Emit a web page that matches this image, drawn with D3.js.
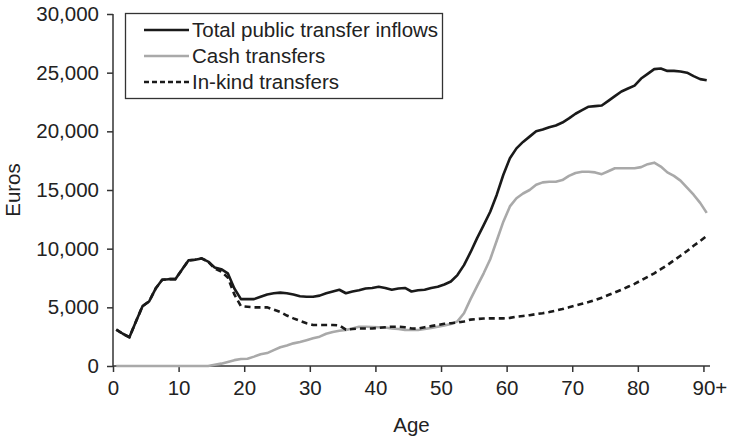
<!DOCTYPE html>
<html><head><meta charset="utf-8">
<script src="https://cdn.jsdelivr.net/npm/d3@7"></script>
<style>
html,body{margin:0;padding:0;background:#fff;}
text{font-family:"Liberation Sans",Arial,Helvetica,sans-serif;fill:#222;}
</style></head>
<body><svg id="c" width="730" height="438"></svg>
<script>
const ages = d3.range(0, 91);
const total = [3100,2750,2450,3800,5100,5500,6600,7350,7400,7400,8200,9000,9050,9170,8900,8400,8250,7900,6600,5700,
  5700,5700,5900,6100,6200,6250,6200,6100,5950,5900,5900,6000,6200,6350,6500,6200,6350,6450,6600,6650,
  6750,6650,6500,6600,6650,6350,6450,6500,6650,6750,6950,7200,7750,8600,9700,10900,12000,13150,14600,16300,
  17700,18550,19100,19550,20000,20150,20350,20500,20750,21100,21500,21800,22100,22150,22200,22600,23000,23400,23650,23900,
  24500,24900,25300,25350,25150,25150,25100,25000,24700,24450,24350];
const cash = [0,0,0,0,0,0,0,0,0,0,0,0,0,0,0,100,200,350,500,600,
  620,800,1000,1100,1350,1600,1750,1930,2050,2200,2360,2500,2750,2900,3000,3070,3200,3350,3350,3320,
  3300,3280,3200,3150,3080,3070,3070,3150,3250,3350,3450,3580,3800,4500,5700,6800,7900,9100,10700,12300,
  13600,14300,14700,15000,15450,15650,15700,15700,15850,16200,16450,16550,16550,16500,16350,16600,16850,16850,16850,16850,
  16950,17200,17330,17000,16500,16200,15800,15200,14600,13900,13050];
const inkind = [3100,2750,2450,3800,5100,5500,6600,7350,7400,7400,8200,9000,9050,9170,8900,8300,8050,7550,6100,5100,
  5050,5000,5000,5000,4800,4600,4300,4060,3850,3650,3500,3500,3500,3500,3450,3100,3150,3200,3200,3200,
  3250,3300,3350,3350,3300,3200,3180,3300,3400,3500,3600,3650,3700,3800,3950,4000,4050,4060,4060,4060,
  4100,4200,4260,4330,4420,4500,4600,4720,4850,5000,5150,5300,5450,5630,5820,6050,6270,6500,6750,7000,
  7300,7600,7900,8250,8600,9000,9400,9800,10250,10650,11080];
const xTicks = [0,10,20,30,40,50,60,70,80,90];
const xTickLabels = ["0","10","20","30","40","50","60","70","80","90+"];
const yTicks = [0,5000,10000,15000,20000,25000,30000];
const seriesNames = ["Total public transfer inflows","Cash transfers","In-kind transfers"];

const svg = d3.select("#c");
const x = d3.scaleLinear().domain([0,91]).range([113,710]);
const y = d3.scaleLinear().domain([0,30000]).range([366,14]);
const fs = 20.5;

// axes
const yAxis = svg.append("g").attr("transform","translate(113,0)")
  .call(d3.axisLeft(y).tickValues(yTicks).tickSize(6).tickPadding(8).tickFormat(d3.format(",")));
const xAxis = svg.append("g").attr("transform","translate(0,366)")
  .call(d3.axisBottom(x).tickValues(xTicks).tickSize(6).tickPadding(8).tickFormat((d,i)=>xTickLabels[i]));
[yAxis,xAxis].forEach(a=>{
  a.selectAll("path.domain").attr("stroke","#333").attr("stroke-width",1.5);
  a.selectAll(".tick line").attr("stroke","#333").attr("stroke-width",1.5);
  a.selectAll(".tick text").attr("font-size",fs).attr("font-family","Liberation Sans, Arial, sans-serif").attr("fill","#222");
});
yAxis.select("path.domain").attr("d","M0,"+y(30000)+"V"+y(0));
xAxis.select("path.domain").attr("d","M"+x(0)+",0H"+x(91));
// "90+" : center the "90" on the tick
xAxis.selectAll(".tick text").filter((d)=>d===90).each(function(){
  const t = d3.select(this);
  t.text("90");
  const w = this.getComputedTextLength();
  t.attr("text-anchor","start").attr("x",-w/2).text("90+");
});

// axis titles
svg.append("text").attr("x",411.5).attr("y",432).attr("text-anchor","middle").attr("font-size",fs).text("Age");
svg.append("text").attr("transform","translate(20,190) rotate(-90)").attr("text-anchor","middle").attr("font-size",fs).text("Euros");

const line = d3.line().x((d,i)=>x(ages[i]+0.5)).y(d=>y(d));
svg.append("path").datum(total).attr("d",line).attr("fill","none").attr("stroke","#1a1a1a").attr("stroke-width",2.6).attr("stroke-linejoin","round");
svg.append("path").datum(cash).attr("d",line).attr("fill","none").attr("stroke","#a9a9a9").attr("stroke-width",2.6).attr("stroke-linejoin","round");
svg.append("path").datum(inkind).attr("d",line).attr("fill","none").attr("stroke","#1a1a1a").attr("stroke-width",2.6).attr("stroke-dasharray","6,4");

// legend
const lg = svg.append("g");
lg.append("rect").attr("x",125.5).attr("y",13.5).attr("width",317).attr("height",85).attr("fill","#fff").attr("stroke","#333").attr("stroke-width",1.3);
const styles = [{c:"#1a1a1a",d:null},{c:"#a9a9a9",d:null},{c:"#1a1a1a",d:"5,3"}];
seriesNames.forEach((n,i)=>{
  const yy = 30 + i*26;
  lg.append("line").attr("x1",144).attr("x2",189).attr("y1",yy).attr("y2",yy)
    .attr("stroke",styles[i].c).attr("stroke-width",2.6).attr("stroke-dasharray",styles[i].d);
  lg.append("text").attr("x",192).attr("y",yy).attr("dy","0.35em").attr("font-size",fs).text(n);
});
</script></body></html>
